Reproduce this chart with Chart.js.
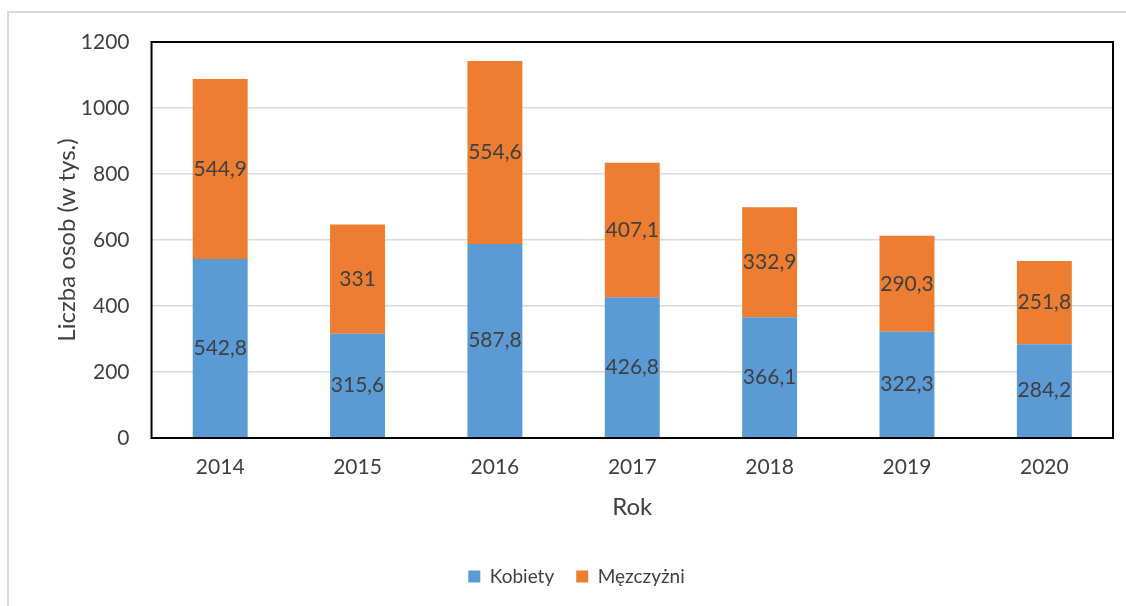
<!DOCTYPE html>
<html>
<head>
<meta charset="utf-8">
<script src="https://cdn.jsdelivr.net/npm/chart.js@4.4.0/dist/chart.umd.min.js"></script>
<style>
  html, body { margin: 0; padding: 0; background: #fff; }
  #wrap { position: relative; width: 1126px; height: 606px; overflow: hidden; }
  #frame { position: absolute; left: 7px; top: 11px; width: 1140px; height: 620px; border: 2px solid #d9d9d9; box-sizing: border-box; }
  canvas { position: absolute; left: 0; top: 0; }
</style>
</head>
<body>
<div id="wrap">
  <div id="frame"></div>
  <canvas id="myChart" width="1126" height="606"></canvas>
</div>
<script>
var years = ["2014", "2015", "2016", "2017", "2018", "2019", "2020"];
var kobiety = [542.8, 315.6, 587.8, 426.8, 366.1, 322.3, 284.2];
var mezczyzni = [544.9, 331, 554.6, 407.1, 332.9, 290.3, 251.8];
var yTicks = [0, 200, 400, 600, 800, 1000, 1200];

var fontName = "Lato";
var textColor = "#404040";

// box round the plot area
var plotBorder = {
  id: "plotBorder",
  afterDraw: function (chart) {
    var a = chart.chartArea;
    var ctx = chart.ctx;
    ctx.save();
    ctx.strokeStyle = "#000";
    ctx.lineWidth = 2;
    ctx.strokeRect(a.left, a.top, a.right - a.left, a.bottom - a.top);
    ctx.restore();
  }
};

// values written in the middle of each segment
var barLabels = {
  id: "barLabels",
  afterDatasetsDraw: function (chart) {
    var ctx = chart.ctx;
    ctx.save();
    ctx.font = "21px " + fontName;
    ctx.fillStyle = textColor;
    ctx.textAlign = "center";
    ctx.textBaseline = "middle";
    chart.data.datasets.forEach(function (ds, i) {
      chart.getDatasetMeta(i).data.forEach(function (bar, j) {
        var mid = (bar.y + bar.base) / 2;
        ctx.fillText(String(ds.data[j]).replace(".", ","), bar.x, mid);
      });
    });
    ctx.restore();
  }
};

new Chart("myChart", {
  type: "bar",
  data: {
    labels: years,
    datasets: [
      {
        label: "Kobiety",
        data: kobiety,
        backgroundColor: "#5B9BD5",
        barPercentage: 0.4,
        categoryPercentage: 1
      },
      {
        label: "Męzczyżni",
        data: mezczyzni,
        backgroundColor: "#ED7D31",
        barPercentage: 0.4,
        categoryPercentage: 1
      }
    ]
  },
  options: {
    responsive: false,
    animation: false,
    layout: { padding: { left: 40, right: 13, top: 42, bottom: 10 } },
    plugins: {
      legend: {
        position: "bottom",
        labels: {
          font: { family: fontName, size: 19 },
          color: textColor,
          boxWidth: 12,
          boxHeight: 12,
          padding: 22
        }
      },
      tooltip: { enabled: false }
    },
    scales: {
      x: {
        stacked: true,
        grid: { display: false },
        border: { display: false },
        ticks: { font: { family: fontName, size: 21 }, color: textColor, padding: 9 },
        title: {
          display: true,
          text: "Rok",
          font: { family: fontName, size: 24 },
          color: textColor,
          padding: { top: 4, bottom: 23 }
        }
      },
      y: {
        stacked: true,
        min: 0,
        max: 1200,
        afterBuildTicks: function (scale) {
          scale.ticks = yTicks.map(function (v) { return { value: v }; });
        },
        grid: { color: "#d9d9d9", lineWidth: 1.5, drawTicks: false },
        border: { display: false },
        ticks: {
          font: { family: fontName, size: 21 },
          color: textColor,
          padding: 22,
          callback: function (v) { return String(v); }
        },
        title: {
          display: true,
          text: "Liczba osob (w tys.)",
          font: { family: fontName, size: 24 },
          color: textColor,
          padding: { top: 13, bottom: -23 }
        }
      }
    }
  },
  plugins: [plotBorder, barLabels]
});
</script>
</body>
</html>
